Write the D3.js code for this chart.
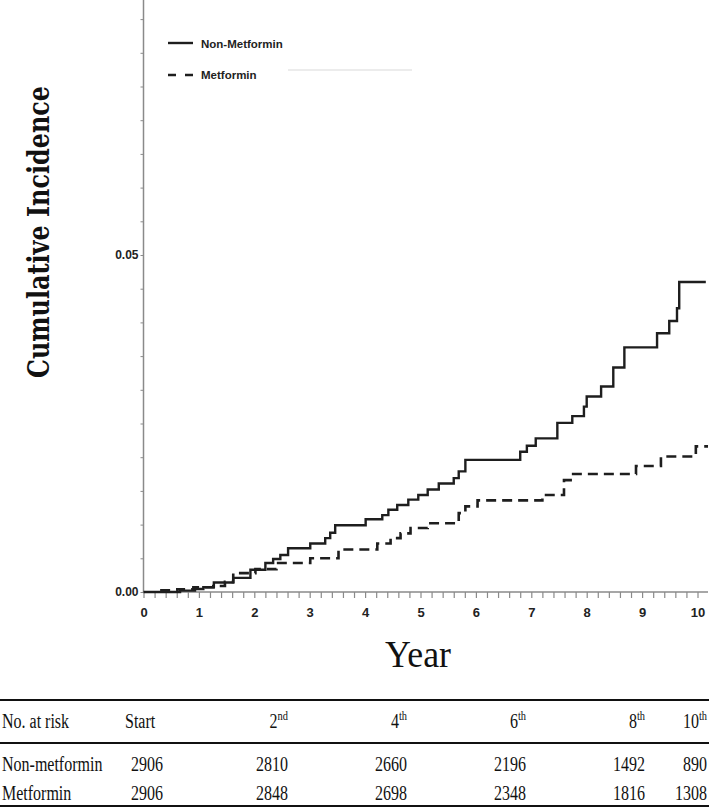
<!DOCTYPE html>
<html>
<head>
<meta charset="utf-8">
<script src="https://cdn.jsdelivr.net/npm/d3@7"></script>
<style>
  html, body { margin: 0; padding: 0; background: #fff; }
  svg { display: block; }
</style>
</head>
<body>
<svg id="chart" width="709" height="808"></svg>
<script>
// ---------- DATA ----------
const nonMetTimes = [0, 0.66, 0.93, 1.08, 1.27, 1.62, 1.93, 2.20, 2.34, 2.47, 2.61, 3.01, 3.28, 3.37, 3.46, 4.01, 4.31, 4.42, 4.58, 4.78, 4.96, 5.13, 5.33, 5.60, 5.69, 5.81, 6.80, 6.92, 7.08, 7.47, 7.74, 7.95, 8.00, 8.26, 8.48, 8.68, 9.27, 9.49, 9.63, 9.67, 10.15];
const nonMetCI    = [0, 0.0002, 0.00045, 0.0007, 0.0014, 0.0021, 0.0033, 0.0043, 0.0049, 0.0055, 0.0065, 0.0072, 0.0080, 0.0088, 0.0099, 0.0108, 0.0114, 0.0122, 0.0129, 0.0137, 0.0144, 0.0152, 0.0161, 0.0169, 0.0179, 0.0196, 0.0208, 0.0217, 0.0228, 0.0251, 0.0261, 0.0275, 0.0290, 0.0305, 0.0333, 0.0363, 0.0384, 0.0402, 0.0421, 0.0460, 0.0460];
const metTimes = [0.3, 0.61, 0.90, 1.26, 1.47, 1.62, 2.02, 2.40, 3.01, 3.52, 4.22, 4.46, 4.64, 4.82, 5.13, 5.69, 5.81, 6.03, 7.20, 7.59, 7.71, 8.89, 9.34, 9.97, 10.19];
const metCI    = [0.00025, 0.0004, 0.0007, 0.0009, 0.0015, 0.0028, 0.0034, 0.0043, 0.0050, 0.0063, 0.0072, 0.0080, 0.0087, 0.0095, 0.0102, 0.0117, 0.0127, 0.0136, 0.0144, 0.0166, 0.0175, 0.0187, 0.0201, 0.0216, 0.0216];

const seriesNames = ["Non-Metformin", "Metformin"];
const xTickLabels = [0, 1, 2, 3, 4, 5, 6, 7, 8, 9, 10];
const yTickLabels = [0, 0.05];

const riskHeader = ["No. at risk", "Start", "2", "4", "6", "8", "10"];
const riskHeaderSup = ["", "", "nd", "th", "th", "th", "th"];
const riskRowNames = ["Non-metformin", "Metformin"];
const riskNonMet = [2906, 2810, 2660, 2196, 1492, 890];
const riskMet    = [2906, 2848, 2698, 2348, 1816, 1308];

// ---------- SETUP ----------
const svg = d3.select("#chart");
const x = d3.scaleLinear().domain([0, 10]).range([143.5, 697.5]);
const y = d3.scaleLinear().domain([0, 0.05]).range([592, 255]);
const xMax = 10.19;
const yMax = y.invert(0);

const axisColor = "#8a8a8a";
const sansNarrow = "'Liberation Sans Narrow', 'Arial Narrow', 'Liberation Sans', Arial, sans-serif";

// X axis
const xMinor = d3.range(0, 51).map(i => i * 0.2);
const xAxis = d3.axisBottom(x)
  .tickValues(xMinor)
  .tickSize(6)
  .tickSizeOuter(0)
  .tickFormat(d => {
    const r = Math.round(d);
    return Math.abs(d - r) < 1e-6 && xTickLabels.includes(r) ? String(r) : "";
  });
const gx = svg.append("g").attr("transform", "translate(0,592)").call(xAxis);
gx.select(".domain").attr("d", `M${x(0)},0H${x(xMax)}`).attr("stroke", axisColor).attr("stroke-width", 1.5);
gx.selectAll(".tick line").attr("stroke", axisColor).attr("stroke-width", 1.2);
gx.selectAll(".tick text")
  .attr("y", 20)
  .attr("dy", "0.35em")
  .attr("fill", "#222")
  .style("font-family", sansNarrow)
  .style("font-weight", "bold")
  .style("font-size", "13px");

// Y axis
const yMinor = d3.range(0, 18).map(i => i * 0.005);
const yAxis = d3.axisLeft(y)
  .tickValues(yMinor)
  .tickSize(3)
  .tickSizeOuter(0)
  .tickFormat(d => yTickLabels.some(v => Math.abs(v - d) < 1e-9) ? d3.format(".2f")(d) : "");
const gy = svg.append("g").attr("transform", "translate(143.5,0)").call(yAxis);
gy.select(".domain").attr("d", `M0,${y(yMax)}V${y(0)}`).attr("stroke", axisColor).attr("stroke-width", 1.5);
gy.selectAll(".tick line").attr("stroke", axisColor).attr("stroke-width", 1);
gy.selectAll(".tick text")
  .attr("x", -5)
  .attr("fill", "#222")
  .style("font-family", sansNarrow)
  .style("font-weight", "bold")
  .style("font-size", "12px");

// Axis titles
svg.append("text")
  .attr("transform", "translate(49,232) rotate(-90)")
  .attr("text-anchor", "middle")
  .attr("textLength", 292)
  .attr("lengthAdjust", "spacingAndGlyphs")
  .style("font-family", "'DejaVu Serif', 'Liberation Serif', serif")
  .style("font-weight", "bold")
  .style("font-size", "29px")
  .attr("fill", "#111")
  .text("Cumulative Incidence");

svg.append("text")
  .attr("x", 418)
  .attr("y", 667)
  .attr("text-anchor", "middle")
  .attr("textLength", 66)
  .attr("lengthAdjust", "spacingAndGlyphs")
  .style("font-family", "'Liberation Serif', 'Times New Roman', serif")
  .style("font-size", "37px")
  .attr("fill", "#111")
  .text("Year");

// Curves
const line = d3.line().x(d => x(d[0])).y(d => y(d[1])).curve(d3.curveStepAfter);
const nonMetData = nonMetTimes.map((t, i) => [t, nonMetCI[i]]);
const metData = metTimes.map((t, i) => [t, metCI[i]]);

svg.append("path").datum(nonMetData)
  .attr("d", line)
  .attr("fill", "none")
  .attr("stroke", "#1e1e1e")
  .attr("stroke-width", 2.4);

svg.append("path").datum(metData)
  .attr("d", line)
  .attr("fill", "none")
  .attr("stroke", "#1e1e1e")
  .attr("stroke-width", 2.6)
  .attr("stroke-dasharray", "10,6");

// Legend
const legend = svg.append("g");
legend.append("line").attr("x1", 168).attr("x2", 193).attr("y1", 43).attr("y2", 43)
  .attr("stroke", "#1e1e1e").attr("stroke-width", 2.4);
legend.append("line").attr("x1", 168).attr("x2", 193).attr("y1", 75).attr("y2", 75)
  .attr("stroke", "#1e1e1e").attr("stroke-width", 2.6).attr("stroke-dasharray", "8,9");
legend.selectAll("text.leg").data(seriesNames).enter().append("text")
  .attr("class", "leg")
  .attr("x", 201)
  .attr("y", (d, i) => 48 + i * 31)
  .attr("fill", "#222")
  .style("font-family", sansNarrow)
  .style("font-weight", "bold")
  .style("font-size", "11.5px")
  .text(d => d);
// faint artifact line
svg.append("line").attr("x1", 288).attr("x2", 412).attr("y1", 70).attr("y2", 70)
  .attr("stroke", "#ececec").attr("stroke-width", 2);

// ---------- RISK TABLE ----------
const table = svg.append("g");
const serif = "'Liberation Serif', 'Times New Roman', serif";
const colRight = [null, 163, 288, 407, 526, 645, 707];
const rowY = [728, 771, 800];
const fs = 20;

table.append("line").attr("x1", 0).attr("x2", 709).attr("y1", 700).attr("y2", 700)
  .attr("stroke", "#111").attr("stroke-width", 2);
table.append("line").attr("x1", 0).attr("x2", 709).attr("y1", 743).attr("y2", 743)
  .attr("stroke", "#111").attr("stroke-width", 2);
table.append("line").attr("x1", 0).attr("x2", 709).attr("y1", 806).attr("y2", 806)
  .attr("stroke", "#111").attr("stroke-width", 2);

function cell(txt, xPos, yPos, anchor, sup) {
  const g = table.append("g").attr("transform", `translate(${xPos},${yPos}) scale(0.8,1)`);
  const t = g.append("text")
    .attr("text-anchor", anchor)
    .attr("fill", "#111")
    .style("font-family", serif)
    .style("font-size", fs + "px");
  t.append("tspan").text(txt);
  if (sup) {
    t.append("tspan").attr("dy", -8).style("font-size", "13px").text(sup);
  }
}

// header
cell(riskHeader[0], 2, rowY[0], "start");
cell(riskHeader[1], 125, rowY[0], "start");
for (let i = 2; i < riskHeader.length; i++) {
  cell(riskHeader[i], colRight[i], rowY[0], "end", riskHeaderSup[i]);
}
// rows
cell(riskRowNames[0], 2, rowY[1], "start");
cell(riskRowNames[1], 2, rowY[2], "start");
riskNonMet.forEach((v, i) => cell(String(v), colRight[i + 1], rowY[1], "end"));
riskMet.forEach((v, i) => cell(String(v), colRight[i + 1], rowY[2], "end"));
</script>
</body>
</html>
